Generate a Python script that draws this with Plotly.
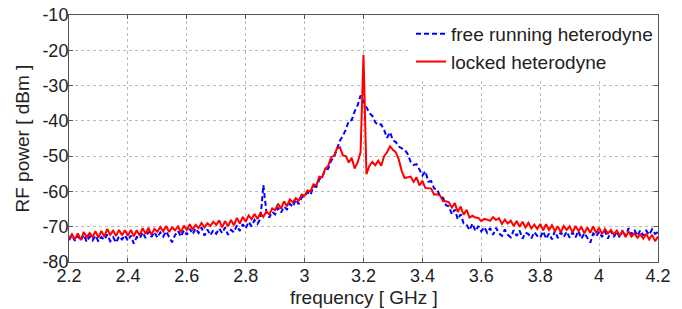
import numpy as np
import plotly.graph_objects as go

# frequency grid (GHz), uniform 0.01 GHz steps from 2.20 to 4.20
freq = np.round(np.arange(2.20, 4.2001, 0.01), 2)

free_running = [
    -73.8, -72.4, -74.0, -72.6, -73.9, -72.3, -74.3, -72.8, -73.9, -72.5,
    -74.2, -72.9, -73.7, -72.2, -74.1, -73.0, -74.5, -72.7, -73.6, -72.4,
    -74.0, -72.5, -74.8, -72.9, -73.4, -71.6, -73.2, -71.4, -72.9, -71.5,
    -73.1, -71.6, -72.8, -71.3, -72.9, -74.4, -72.4, -71.2, -72.8, -71.0,
    -72.3, -70.6, -72.1, -70.5, -71.8, -70.2, -72.5, -70.8, -72.4, -71.0,
    -72.0, -70.5, -71.8, -70.2, -72.3, -70.9, -71.6, -69.6, -71.2, -69.3,
    -70.5, -68.6, -69.9, -68.1, -69.2, -67.8, -58.2, -65.6, -67.4, -65.8,
    -66.5, -64.6, -66.0, -64.3, -65.1, -63.5, -64.4, -62.3, -63.6, -61.7,
    -61.4, -60.2, -61.0, -58.6, -58.7, -56.6, -55.9, -53.8, -53.6, -51.3,
    -50.3, -47.9, -45.6, -44.2, -42.5, -40.0, -39.8, -37.3, -35.6, -32.8,
    -34.6, -36.2, -37.8, -38.6, -40.4, -41.2, -41.0, -42.6, -44.8, -43.2,
    -45.5, -46.0, -47.3, -47.8, -48.2, -49.4, -51.6, -52.5, -52.3, -53.8,
    -55.5, -54.3, -57.2, -57.1, -59.2, -59.3, -61.5, -61.8, -63.9, -64.2,
    -66.5, -65.1, -67.9, -66.5, -69.1, -69.4, -71.0, -69.1, -71.2, -69.8,
    -71.3, -70.1, -71.7, -70.4, -72.3, -70.3, -71.9, -72.6, -70.8, -72.3,
    -73.0, -71.0, -72.6, -71.1, -73.4, -71.7, -72.1, -73.3, -71.5, -72.6,
    -73.1, -71.3, -73.4, -71.9, -73.6, -71.2, -73.2, -71.6, -72.9, -71.4,
    -73.1, -71.6, -73.0, -71.2, -73.4, -71.8, -73.3, -74.5, -71.9, -72.8,
    -71.4, -72.9, -71.3, -73.4, -71.2, -72.9, -71.4, -73.1, -71.0, -72.6,
    -70.4, -72.2, -70.9, -72.6, -71.0, -72.5, -71.1, -72.3, -70.7, -72.0,
    -71.5,
]

locked = [
    -73.4, -72.1, -73.6, -71.9, -73.8, -71.5, -73.0, -71.8, -72.9, -71.3,
    -73.1, -71.2, -72.8, -70.6, -72.3, -71.1, -72.6, -70.9, -72.4, -71.0,
    -72.6, -70.9, -72.7, -71.0, -72.5, -70.4, -72.0, -70.3, -72.3, -70.6,
    -71.4, -70.1, -71.3, -69.8, -71.5, -70.2, -71.0, -69.9, -71.6, -69.7,
    -70.9, -69.3, -70.8, -69.5, -70.4, -68.9, -70.2, -69.0, -69.8, -68.6,
    -69.5, -68.2, -70.2, -68.4, -69.9, -68.1, -69.6, -67.5, -69.1, -67.2,
    -68.6, -66.8, -67.9, -66.4, -67.8, -66.1, -67.2, -65.7, -66.5, -64.8,
    -65.3, -63.5, -64.9, -62.8, -64.2, -62.3, -63.1, -61.9, -62.6, -60.9,
    -61.2, -59.7, -60.0, -58.0, -58.3, -55.8, -56.0, -53.5, -52.8, -50.3,
    -49.9, -47.8, -47.5, -49.8, -50.0, -51.8, -50.5, -53.5, -51.8, -48.9,
    -21.3, -55.1, -52.8, -51.6, -52.6, -51.3, -52.7, -50.0, -48.9, -47.2,
    -48.2, -48.9, -51.0, -54.3, -56.2, -56.0, -55.8, -57.3, -56.0, -58.3,
    -57.0, -59.0, -59.1, -59.2, -60.9, -60.8, -61.2, -62.8, -62.8, -63.1,
    -64.6, -63.3, -65.8, -64.3, -66.6, -65.2, -67.4, -66.9, -67.4, -67.5,
    -68.4, -67.8, -68.0, -68.3, -67.3, -68.1, -67.6, -69.2, -68.0, -69.1,
    -68.3, -69.8, -68.4, -70.0, -68.6, -70.2, -68.9, -70.5, -69.4, -70.6,
    -69.2, -71.0, -69.3, -70.9, -69.6, -71.2, -69.9, -71.6, -69.8, -70.9,
    -69.9, -71.6, -69.8, -71.2, -70.1, -71.9, -70.2, -71.7, -69.9, -71.8,
    -70.3, -72.1, -70.6, -71.9, -70.9, -72.2, -71.1, -72.5, -71.2, -72.9,
    -71.3, -72.8, -71.9, -73.1, -72.2, -73.4, -72.0, -73.6, -72.3, -74.1,
    -72.8,
]

x_ticks = [2.2, 2.4, 2.6, 2.8, 3.0, 3.2, 3.4, 3.6, 3.8, 4.0, 4.2]
x_tick_labels = ["2.2", "2.4", "2.6", "2.8", "3", "3.2", "3.4", "3.6", "3.8", "4", "4.2"]
y_ticks = [-80, -70, -60, -50, -40, -30, -20, -10]
y_tick_labels = ["-80", "-70", "-60", "-50", "-40", "-30", "-20", "-10"]
x_title = "frequency [ GHz ]"
y_title = "RF power [ dBm ]"

FONT = "Liberation Sans, Arial, sans-serif"
FS = 19
FS_TICK = 18
TXT = "#222222"

fig = go.Figure()
fig.add_trace(go.Scatter(
    x=freq, y=free_running, mode="lines", name="free running heterodyne",
    line=dict(color="#0000FF", width=2, dash="5px,3px"),
))
fig.add_trace(go.Scatter(
    x=freq, y=locked, mode="lines", name="locked heterodyne",
    line=dict(color="#FF0000", width=2),
))

axis_common = dict(
    showline=True, linecolor="#555555", linewidth=1, mirror="ticks",
    ticks="inside", ticklen=4, tickcolor="#555555",
    showgrid=True, gridcolor="#bbbbbb", griddash="dot", gridwidth=1,
    zeroline=False, automargin=False, ticklabeloverflow="allow",
    tickfont=dict(family=FONT, size=FS_TICK, color=TXT),
)

# page body has an 8px default margin, so the figure is sized to fit
fig.update_layout(
    width=674, height=301,
    margin=dict(l=61, r=24, t=7, b=47),
    paper_bgcolor="white", plot_bgcolor="white",
    font=dict(family=FONT, color=TXT),
    xaxis=dict(range=[2.2, 4.2], tickvals=x_ticks, ticktext=x_tick_labels,
               ticklabelstandoff=-3, **axis_common),
    yaxis=dict(range=[-80, -10], tickvals=y_ticks, ticktext=y_tick_labels,
               ticklabelstandoff=-4, **axis_common),
    legend=dict(x=1, y=1, xanchor="right", yanchor="top",
                bgcolor="white", borderwidth=0,
                font=dict(family=FONT, size=FS, color=TXT),
                tracegroupgap=0),
    showlegend=True,
)

fig.add_annotation(text=x_title, xref="paper", yref="paper", x=0.5, y=0,
                   xanchor="center", yanchor="middle", yshift=-35,
                   showarrow=False, font=dict(family=FONT, size=FS, color=TXT))
fig.add_annotation(text=y_title, xref="paper", yref="paper", x=0, y=0.5,
                   xanchor="center", yanchor="middle", xshift=-47, textangle=-90,
                   showarrow=False, font=dict(family=FONT, size=FS, color=TXT))

fig.write_html("out.html")
